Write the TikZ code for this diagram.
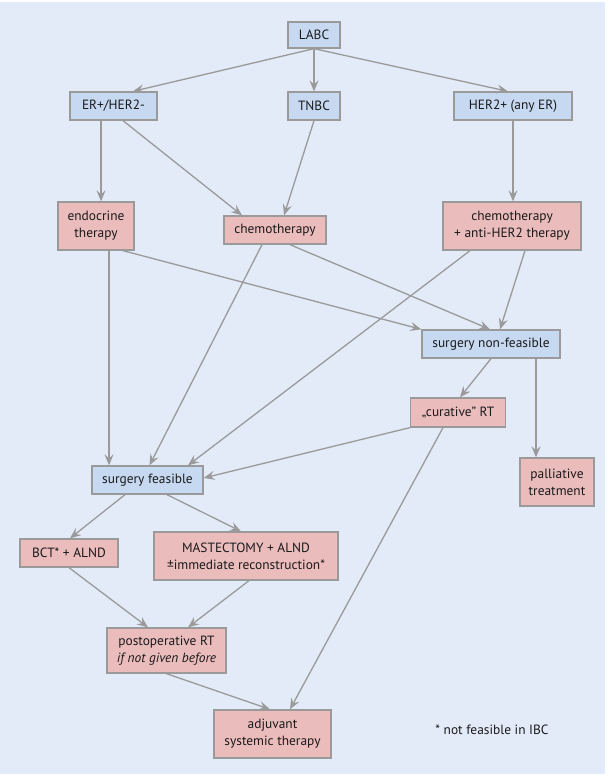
\documentclass[tikz,border=0pt]{standalone}
\usepackage{fontspec}
\setmainfont{PT Sans}
\usepackage{tikz}
\usetikzlibrary{positioning,arrows.meta,calc}
\definecolor{LABCbg}{HTML}{E3EBF8}
\definecolor{LABCblue}{HTML}{C6D9F1}
\definecolor{LABCred}{HTML}{EBBCBC}
\definecolor{LABCline}{HTML}{9A9A9A}
\definecolor{LABCtext}{HTML}{1A1A1A}
\tikzset{
  bluebox/.style={draw=LABCline, fill=LABCblue, line width=1.3pt, align=center, inner sep=2pt, text=LABCtext, font=\fontsize{13.4}{17}\selectfont},
  redbox/.style={draw=LABCline, fill=LABCred, line width=1.3pt, align=center, inner sep=2pt, text=LABCtext, font=\fontsize{13.4}{17}\selectfont},
  flowarr/.style={-{Stealth[length=11pt, width=9pt, inset=4pt]}, line width=1.3pt, draw=LABCline}
}

\begin{document}
\begin{tikzpicture}[x=1pt, y=-1pt]
      \useasboundingbox (0,0) rectangle (613,777);
      \fill[white] (0,0) rectangle (613,777);
      \fill[LABCbg] (0,2) rectangle (605,774);
      % receptor status
      \node[bluebox, minimum width=52pt, minimum height=26pt] (labc) at (314,35) {LABC};
      \node[bluebox, minimum width=87pt, minimum height=28pt] (erneg) at (113.5,106) {ER+/HER2-};
      \node[bluebox, minimum width=52pt, minimum height=28pt] (tnbc) at (314,106) {TNBC};
      \node[bluebox, minimum width=118pt, minimum height=28pt] (herpos) at (513,106) {HER2+ (any ER)};
      % primary systemic treatment
      \node[redbox, minimum width=76pt, minimum height=48pt] (endo) at (96,226) {endocrine\\therapy};
      \node[redbox, minimum width=102pt, minimum height=28pt] (chemo) at (275,230) {chemotherapy};
      \node[redbox, minimum width=138pt, minimum height=48pt] (chemoher) at (512,226) {chemotherapy\\+ anti-HER2 therapy};
      % operability
      \node[bluebox, minimum width=138pt, minimum height=28pt] (sgnon) at (491,344) {surgery non-feasible};
      \node[redbox, minimum width=95pt, minimum height=29pt] (curRT) at (458,412.5) {„curative” RT};
      \node[redbox, minimum width=74pt, minimum height=48pt] (pall) at (557,482) {palliative\\treatment};
      \node[bluebox, minimum width=111pt, minimum height=28pt] (sgfeas) at (147.5,480) {surgery feasible};
      % surgery and adjuvant
      \node[redbox, minimum width=98pt, minimum height=28pt] (bct) at (69,553) {BCT* + ALND};
      \node[redbox, minimum width=184pt, minimum height=48pt] (mast) at (246,556) {MASTECTOMY + ALND\\±immediate reconstruction*};
      \node[redbox, minimum width=119pt, minimum height=45pt] (postop) at (166.5,650.5) {postoperative RT\\\textit{if not given before}};
      \node[redbox, minimum width=117pt, minimum height=48pt] (adjuv) at (272.5,734) {adjuvant\\systemic therapy};
      \node[text=LABCtext, font=\fontsize{13.4}{17}\selectfont] (note) at (492,730) {* not feasible in IBC};
      % connectors
      \draw[flowarr] (labc.south) -- ($(erneg.north)+(19.5,0)$);
      \draw[flowarr] (labc.south) -- (tnbc.north);
      \draw[flowarr] (labc.south) -- ($(herpos.north)+(-5,0)$);
      \draw[flowarr] ($(erneg.south)+(-12.5,0)$) -- ($(endo.north)+(5,0)$);
      \draw[flowarr] ($(erneg.south)+(9.5,0)$) -- ($(chemo.north)+(-33,0)$);
      \draw[flowarr] (tnbc.south) -- ($(chemo.north)+(9,0)$);
      \draw[flowarr] (herpos.south) -- ($(chemoher.north)+(1,0)$);
      \draw[flowarr] ($(endo.south)+(27,0)$) -- (sgnon.north west);
      \draw[flowarr] ($(chemo.south)+(15,0)$) -- ($(sgnon.north)+(-1,0)$);
      \draw[flowarr] ($(chemoher.south)+(-42,0)$) -- ($(sgfeas.north)+(40.5,0)$);
      \draw[flowarr] ($(chemoher.south)+(13,0)$) -- ($(sgnon.north)+(9,0)$);
      \draw[flowarr] ($(endo.south)+(13,0)$) -- ($(sgfeas.north)+(-38.5,0)$);
      \draw[flowarr] ($(chemo.south)+(-13,0)$) -- ($(sgfeas.north)+(2,0)$);
      \draw[flowarr] (sgnon.south) -- ($(curRT.north)+(2,0)$);
      \draw[flowarr] ($(sgnon.south)+(45,0)$) -- ($(pall.north)+(-21,0)$);
      \draw[flowarr] (curRT.south west) -- ($(sgfeas.east)+(0,-2)$);
      \draw[flowarr] ($(curRT.south)+(-15,0)$) -- ($(adjuv.north)+(17.5,0)$);
      \draw[flowarr] ($(sgfeas.south)+(-22.5,0)$) -- ($(bct.north)+(1,0)$);
      \draw[flowarr] ($(sgfeas.south)+(19.5,0)$) -- ($(mast.north)+(-5,0)$);
      \draw[flowarr] (bct.south) -- ($(postop.north)+(-18.5,0)$);
      \draw[flowarr] ($(mast.south)+(3,0)$) -- ($(postop.north)+(21.5,0)$);
      \draw[flowarr] (postop.south) -- ($(adjuv.north)+(-2.5,0)$);
    \end{tikzpicture}
\end{document}
